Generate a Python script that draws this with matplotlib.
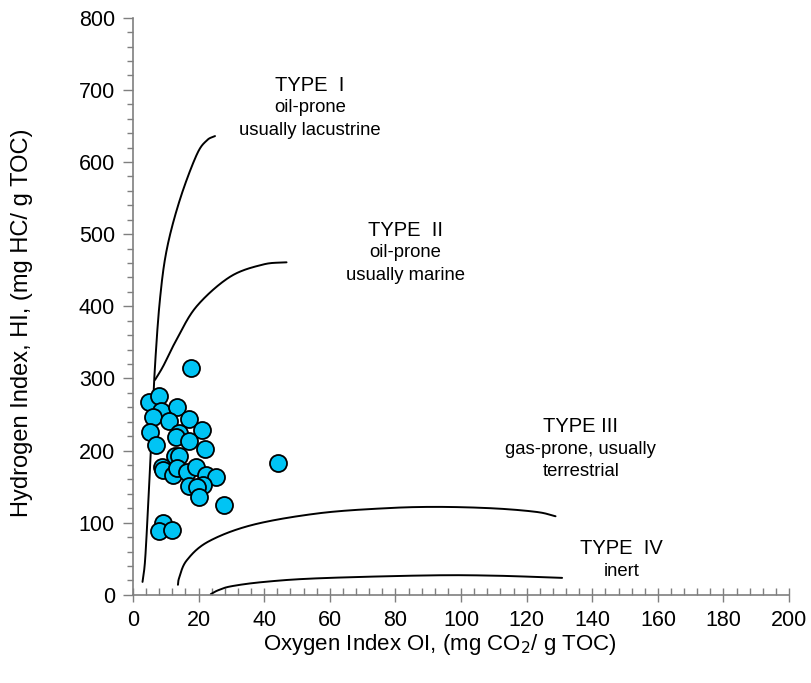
"""Van Krevelen-type HI vs OI diagram with kerogen type boundaries."""

import matplotlib

matplotlib.use('Agg')
from matplotlib import pyplot as plt
import numpy as np

plt.rcParams['font.family'] = ['Liberation Sans', 'DejaVu Sans']

# sample measurements: oxygen index and hydrogen index
oi = [17.7, 5.0, 8.0, 8.4, 6.0, 13.5, 11.1, 17.2, 5.2, 20.9, 14.1, 13.1,
      17.0, 7.0, 22.0, 12.8, 14.0, 8.7, 9.0, 12.3, 13.3, 16.6, 19.2, 22.3,
      25.3, 21.2, 17.2, 19.4, 20.2, 27.8, 44.1, 9.0, 8.0, 11.8]
hi = [315, 268, 276, 255, 247, 261, 241, 244, 226, 228, 224, 219,
      214, 208, 202, 192, 192, 177, 173, 166, 176, 171, 177, 166,
      163, 152, 151, 149, 136, 124, 183, 99, 89, 90]

# kerogen type boundary curves (OI, HI)
type1_x = [2.9, 3.7, 4.7, 5.7, 6.7, 8.2, 10.3, 14.3, 19.4, 22.5, 25.0]
type1_y = [18, 49, 132, 224, 317, 409, 479, 548, 610, 630, 636]
type2_x = [6.7, 9.2, 13.3, 19.4, 29.6, 39.7, 46.8]
type2_y = [298, 317, 354, 400, 441, 458, 461]
type3_x = [13.7, 14.1, 16.4, 23.0, 36.4, 56.4, 76.4, 92.4, 109.7, 123.0, 128.8]
type3_y = [14, 24, 48, 74, 97, 113, 120, 122, 120, 115, 109]
type4_x = [23.7, 26.0, 30.0, 40.0, 56.4, 89.7, 109.7, 130.8]
type4_y = [1, 6.5, 12, 18, 23, 27, 26.7, 23.6]

# region labels: (x, y, lines)
labels = [
    (54, 706, ['TYPE  I', 'oil-prone', 'usually lacustrine']),
    (83, 505, ['TYPE  II', 'oil-prone', 'usually marine']),
    (136.5, 233, ['TYPE III', 'gas-prone, usually', 'terrestrial']),
    (149, 64, ['TYPE  IV', 'inert']),
]


def smooth(xs, ys, n=40):
    """Catmull-Rom spline through boundary control points."""
    p = np.column_stack([np.asarray(xs, float) / 200.0,
                         np.asarray(ys, float) / 800.0])
    p = np.vstack([2 * p[0] - p[1], p, 2 * p[-1] - p[-2]])
    out = []
    t = np.linspace(0.0, 1.0, n)[:, None]
    for i in range(1, len(p) - 2):
        p0, p1, p2, p3 = p[i - 1], p[i], p[i + 1], p[i + 2]
        seg = 0.5 * ((2 * p1) + (-p0 + p2) * t
                     + (2 * p0 - 5 * p1 + 4 * p2 - p3) * t ** 2
                     + (-p0 + 3 * p1 - 3 * p2 + p3) * t ** 3)
        out.append(seg if i == 1 else seg[1:])
    out = np.vstack(out)
    return out[:, 0] * 200.0, out[:, 1] * 800.0


fig = plt.figure(figsize=(8.11, 6.83), dpi=100)
ax = fig.add_axes([0.164, 0.129, 0.809, 0.845])

for cx, cy in [(type1_x, type1_y), (type2_x, type2_y),
               (type3_x, type3_y), (type4_x, type4_y)]:
    sx, sy = smooth(cx, cy)
    ax.plot(sx, sy, color='black', linewidth=1.4, solid_capstyle='round')

ax.scatter(oi, hi, s=150, facecolor='#00C4F4', edgecolor='black',
           linewidth=1.3, zorder=3, clip_on=False)

for lx, ly, lines in labels:
    for i, line in enumerate(lines):
        ax.text(lx, ly - i * 31, line, ha='center', va='center',
                fontsize=14.5 if i == 0 else 13.3, color='black')

ax.set_xlim(0, 200)
ax.set_ylim(0, 800)
ax.set_xticks(np.arange(0, 201, 20))
ax.set_yticks(np.arange(0, 801, 100))
ax.set_xticks(np.arange(0, 201, 4), minor=True)
ax.set_yticks(np.arange(0, 801, 20), minor=True)

for side in ('top', 'right'):
    ax.spines[side].set_visible(False)
for side in ('left', 'bottom'):
    ax.spines[side].set_color('#7f7f7f')
    ax.spines[side].set_linewidth(1.2)

ax.tick_params(axis='x', which='major', direction='inout', length=10,
               width=1.0, color='#7f7f7f', labelsize=15.5, pad=6)
ax.tick_params(axis='x', which='minor', direction='in', length=5,
               width=1.0, color='#7f7f7f')
ax.tick_params(axis='y', which='major', direction='out', length=7,
               width=1.0, color='#7f7f7f', labelsize=15.5, pad=6)
ax.tick_params(axis='y', which='minor', direction='out', length=4,
               width=1.0, color='#7f7f7f')

ax.set_xlabel('Oxygen Index OI, (mg CO$_2$/ g TOC)', fontsize=16)
ax.set_ylabel('Hydrogen Index, HI, (mg HC/ g TOC)', fontsize=17)
ax.xaxis.set_label_coords(0.468, -0.064)
ax.yaxis.set_label_coords(-0.152, 0.471)

fig.savefig('out.png', dpi=100)
